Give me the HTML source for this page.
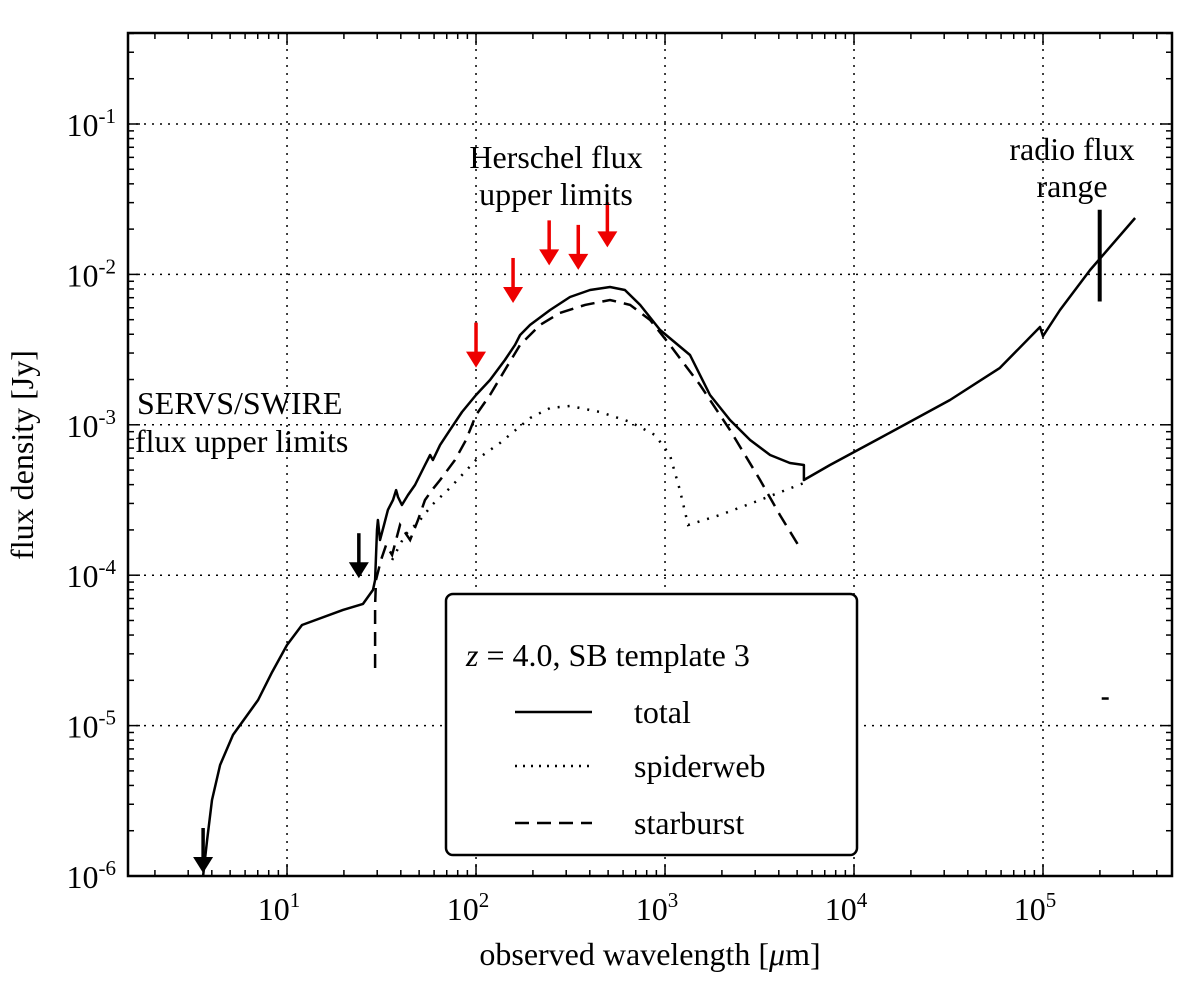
<!DOCTYPE html>
<html><head><meta charset="utf-8"><style>
body{margin:0;background:#fff}
svg text{font-family:"Liberation Serif",serif;fill:#000}
</style></head><body>
<svg id="chart" width="1200" height="985" xmlns="http://www.w3.org/2000/svg">
<g id="grid"></g>
<g id="series"></g>
<g id="ticks"></g>
<rect x="128" y="33" width="1044" height="843" fill="none" stroke="#000" stroke-width="2.5"/>
<text x="650" y="965" font-size="32" text-anchor="middle">observed wavelength [<tspan font-style="italic">μ</tspan>m]</text>
<text transform="translate(33,455) rotate(-90)" font-size="32" text-anchor="middle">flux density [Jy]</text>
<text x="556" y="168" font-size="32" text-anchor="middle">Herschel flux</text>
<text x="556" y="205" font-size="32" text-anchor="middle">upper limits</text>
<text x="1072" y="160" font-size="32" text-anchor="middle">radio flux</text>
<text x="1072" y="197" font-size="32" text-anchor="middle">range</text>
<text x="137" y="414" font-size="32">SERVS/SWIRE</text>
<text x="135" y="452" font-size="32">flux upper limits</text>
<g>
<rect x="446" y="594" width="411" height="261" rx="7" fill="#fff" stroke="#000" stroke-width="2.5"/>
<text x="466" y="666" font-size="32"><tspan font-style="italic">z</tspan> = 4.0, SB template 3</text>
<line x1="515" y1="712" x2="592" y2="712" stroke="#000" stroke-width="2.5"/>
<text x="634" y="723" font-size="32">total</text>
<line x1="515" y1="766" x2="592" y2="766" stroke="#000" stroke-width="2.5" stroke-dasharray="2,6"/>
<text x="634" y="777" font-size="32">spiderweb</text>
<line x1="515" y1="823" x2="592" y2="823" stroke="#000" stroke-width="2.5" stroke-dasharray="14,8"/>
<text x="634" y="834" font-size="32">starburst</text>
</g>
</svg>
<script>
const totalLogLam=[0.556,0.577,0.603,0.646,0.714,0.847,0.921,1.0,1.079,1.296,1.402,1.455,1.466,1.476,1.481,1.492,1.513,1.534,1.561,1.577,1.587,1.608,1.64,1.677,1.73,1.757,1.772,1.81,1.862,1.926,2.0,2.074,2.153,2.206,2.233,2.286,2.392,2.497,2.603,2.709,2.788,2.868,2.974,3.132,3.238,3.344,3.45,3.556,3.661,3.735,3.735,3.873,4.138,4.508,4.772,4.984,5.0,5.09,5.249,5.487];
const totalLogFlux=[-6,-5.761,-5.495,-5.262,-5.062,-4.83,-4.644,-4.464,-4.331,-4.231,-4.191,-4.098,-4.032,-3.699,-3.633,-3.766,-3.666,-3.566,-3.5,-3.434,-3.48,-3.533,-3.467,-3.4,-3.267,-3.201,-3.234,-3.134,-3.035,-2.915,-2.802,-2.702,-2.569,-2.469,-2.403,-2.336,-2.237,-2.15,-2.104,-2.084,-2.104,-2.203,-2.37,-2.536,-2.802,-2.968,-3.101,-3.201,-3.254,-3.267,-3.367,-3.267,-3.088,-2.835,-2.622,-2.35,-2.41,-2.237,-1.971,-1.625];
const starLogLam=[1.466,1.466,1.471,1.497,1.524,1.556,1.598,1.651,1.693,1.73,1.767,1.81,1.889,1.947,2.0,2.074,2.153,2.233,2.339,2.444,2.577,2.709,2.815,2.921,3.026,3.185,3.344,3.503,3.608,3.714];
const starLogFlux=[-4.617,-4.2,-4.032,-3.899,-3.799,-3.866,-3.666,-3.766,-3.633,-3.5,-3.434,-3.367,-3.234,-3.101,-2.935,-2.802,-2.636,-2.469,-2.336,-2.257,-2.203,-2.17,-2.203,-2.303,-2.469,-2.735,-3.035,-3.367,-3.6,-3.819];
const spiderLogLam=[1.556,1.624,1.704,1.767,1.862,2.0,2.127,2.286,2.392,2.497,2.656,2.815,2.947,3.026,3.079,3.122,3.291,3.503,3.735];
const spiderLogFlux=[-3.899,-3.733,-3.633,-3.533,-3.42,-3.234,-3.121,-2.955,-2.888,-2.875,-2.915,-2.981,-3.068,-3.201,-3.434,-3.666,-3.6,-3.5,-3.387];
const herschelLogLam=[2.0,2.196,2.387,2.541,2.695];
const herschelLogFlux=[-2.62,-2.19,-1.94,-1.97,-1.82];
const blackLimitLogLam=[0.556,1.38];
const blackLimitLogFlux=[-5.98,-4.02];
const radioLogLam=5.3; const radioLogLow=-2.18, radioLogHigh=-1.57;
const xTickExp=[1,2,3,4,5]; const yTickExp=[-6,-5,-4,-3,-2,-1];

const X0=128,X1=1172,Y0=33,Y1=876;
const xmin=0.1586,xmax=5.6825,ymin=-6,ymax=-0.395;
const sx=l=>X0+(l-xmin)/(xmax-xmin)*(X1-X0);
const sy=f=>Y1-(f-ymin)/(ymax-ymin)*(Y1-Y0);
const NS="http://www.w3.org/2000/svg";
function mk(parent,tag,attrs){const e=document.createElementNS(NS,tag);for(const k in attrs)e.setAttribute(k,attrs[k]);document.getElementById(parent).appendChild(e);return e;}
xTickExp.forEach(e=>{const l=mk('grid','line',{x1:sx(e),x2:sx(e),y1:Y0,y2:Y1,stroke:'#000','stroke-width':1.5,'stroke-dasharray':'2,6'});

});
yTickExp.forEach(e=>{const l=mk('grid','line',{x1:X0,x2:X1,y1:sy(e),y2:sy(e),stroke:'#000','stroke-width':1.5,'stroke-dasharray':'2,6'});

});
for(let d=0;d<=6;d++){for(let m=1;m<10;m++){const l=d+Math.log10(m);if(l<xmin||l>xmax)continue;const len=m==1?12:6;
mk('ticks','line',{x1:sx(l),x2:sx(l),y1:Y1,y2:Y1-len,stroke:'#000','stroke-width':1.5});
mk('ticks','line',{x1:sx(l),x2:sx(l),y1:Y0,y2:Y0+len,stroke:'#000','stroke-width':1.5});}}
for(let d=-7;d<=0;d++){for(let m=1;m<10;m++){const l=d+Math.log10(m);if(l<ymin||l>ymax)continue;const len=m==1?12:6;
mk('ticks','line',{y1:sy(l),y2:sy(l),x1:X0,x2:X0+len,stroke:'#000','stroke-width':1.5});
mk('ticks','line',{y1:sy(l),y2:sy(l),x1:X1,x2:X1-len,stroke:'#000','stroke-width':1.5});}}
xTickExp.forEach(e=>{const t=mk('ticks','text',{x:sx(e)-8,y:Y1+44,'font-size':32,'text-anchor':'middle'});t.innerHTML='10<tspan font-size="21" dy="-13">'+e+'</tspan>';

});
yTickExp.forEach(e=>{const t=mk('ticks','text',{x:X0-12,y:sy(e)+12,'font-size':32,'text-anchor':'end'});t.innerHTML='10<tspan font-size="21" dy="-13">'+e+'</tspan>';

});
function path(lx,ly){return lx.map((v,i)=>(i?'L':'M')+sx(v).toFixed(1)+','+sy(ly[i]).toFixed(1)).join('');}
const pt=mk('series','path',{d:path(totalLogLam,totalLogFlux),fill:'none',stroke:'#000','stroke-width':2.5,'stroke-linejoin':'round'});


const ps=mk('series','path',{d:path(starLogLam,starLogFlux),fill:'none',stroke:'#000','stroke-width':2.5,'stroke-dasharray':'14,8'});


const pw=mk('series','path',{d:path(spiderLogLam,spiderLogFlux),fill:'none',stroke:'#000','stroke-width':2.5,'stroke-dasharray':'2,8'});


function arrow(l,f,color,name){const x=sx(l),y=sy(f);
const g=mk('series','g',{});


const a=document.createElementNS(NS,'line');a.setAttribute('x1',x);a.setAttribute('x2',x);a.setAttribute('y1',y-45);a.setAttribute('y2',y-8);a.setAttribute('stroke',color);a.setAttribute('stroke-width',3.5);g.appendChild(a);
const p=document.createElementNS(NS,'polygon');p.setAttribute('points',`${x-10},${y-16} ${x+10},${y-16} ${x},${y}`);p.setAttribute('fill',color);g.appendChild(p);}
herschelLogLam.forEach((l,i)=>arrow(l,herschelLogFlux[i],'#e00','herschel-upper-limit'));
blackLimitLogLam.forEach((l,i)=>arrow(l,blackLimitLogFlux[i],'#000','servs-upper-limit'));
const rb=mk('series','line',{x1:sx(radioLogLam),x2:sx(radioLogLam),y1:sy(radioLogHigh),y2:sy(radioLogLow),stroke:'#000','stroke-width':4});


const rd=mk('series','line',{x1:sx(radioLogLam)+2,x2:sx(radioLogLam)+9,y1:sy(-4.82),y2:sy(-4.82),stroke:'#000','stroke-width':2.5});


</script>
</body></html>
